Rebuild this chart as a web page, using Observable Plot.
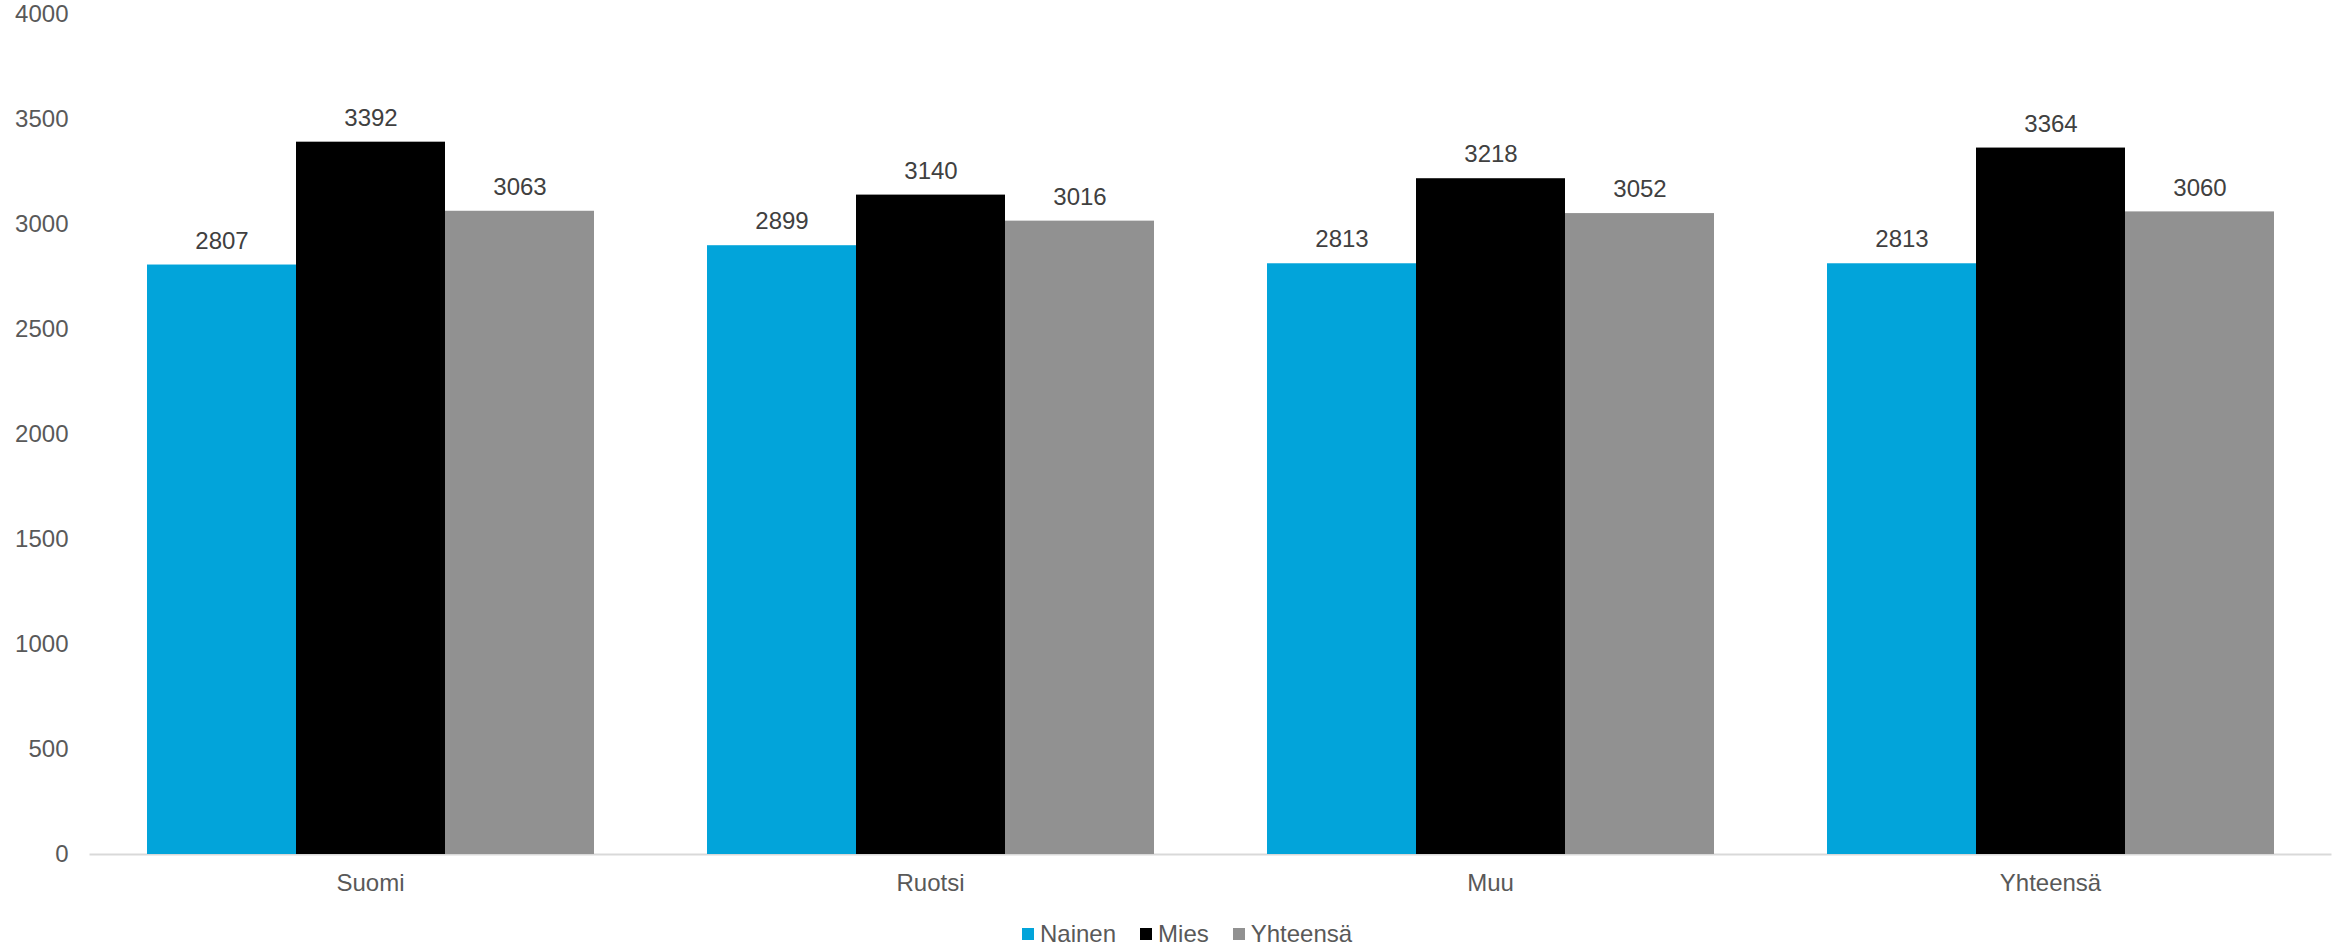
<!DOCTYPE html>
<html>
<head>
<meta charset="utf-8">
<script src="https://cdn.jsdelivr.net/npm/d3@7"></script>
<script src="https://cdn.jsdelivr.net/npm/@observablehq/plot@0.6"></script>
<style>
  html, body { margin: 0; padding: 0; background: #fff; }
  body { width: 2343px; height: 945px; overflow: hidden; font-family: "Liberation Sans", Arial, sans-serif; }
  #legend { position: absolute; left: 0; top: 918px; width: 2343px; height: 32px; display: flex; justify-content: flex-start; }
  .item { display: flex; align-items: center; font-size: 24px; color: #595959; margin-right: 24px; }
  .sw { width: 12px; height: 12px; margin-right: 6px; }
</style>
</head>
<body>
<div id="chart"></div>
<div id="legend"></div>
<script>
const categories = ["Suomi", "Ruotsi", "Muu", "Yhteensä"];
const series = ["Nainen", "Mies", "Yhteensä"];
const colors = ["#02A4DA", "#000000", "#919191"];
const nainen = [2807, 2899, 2813, 2813];
const mies = [3392, 3140, 3218, 3364];
const yhteensa = [3063, 3016, 3052, 3060];
const yTicks = [0, 500, 1000, 1500, 2000, 2500, 3000, 3500, 4000];

const values = [nainen, mies, yhteensa];
const data = categories.flatMap((c, i) => series.map((s, j) => ({cat: c, series: s, value: values[j][i]})));

const chart = Plot.plot({
  width: 2343,
  height: 905,
  marginLeft: 145,
  marginRight: 69,
  marginTop: 14,
  marginBottom: 51,
  style: {fontFamily: "Liberation Sans, Arial, sans-serif", fontSize: "24px", color: "#595959", background: "#fff", overflow: "visible"},
  fx: {domain: categories, paddingInner: 0.2, paddingOuter: 0, label: null, tickSize: 0, tickPadding: 19},
  x: {domain: series, padding: 0, axis: null},
  y: {domain: [0, 4000], ticks: yTicks, tickFormat: d => String(d), label: null, tickSize: 0, tickPadding: 78},
  color: {domain: series, range: colors},
  marks: [
    Plot.frame({facet: "super", anchor: "bottom", stroke: "#d9d9d9", strokeWidth: 2, insetLeft: -56, insetRight: -56}),
    Plot.barY(data, {fx: "cat", x: "series", y: "value", fill: "series"}),
    Plot.text(data, {fx: "cat", x: "series", y: "value", text: d => String(d.value), dy: -24, fill: "#404040", fontSize: 24})
  ]
});
document.getElementById("chart").appendChild(chart);

const legend = document.getElementById("legend");
legend.style.paddingLeft = "1022px";
series.forEach((s, i) => {
  const item = document.createElement("div");
  item.className = "item";
  const sw = document.createElement("div");
  sw.className = "sw";
  sw.style.background = colors[i];
  const t = document.createElement("span");
  t.textContent = s;
  item.appendChild(sw);
  item.appendChild(t);
  legend.appendChild(item);
});
</script>
</body>
</html>
